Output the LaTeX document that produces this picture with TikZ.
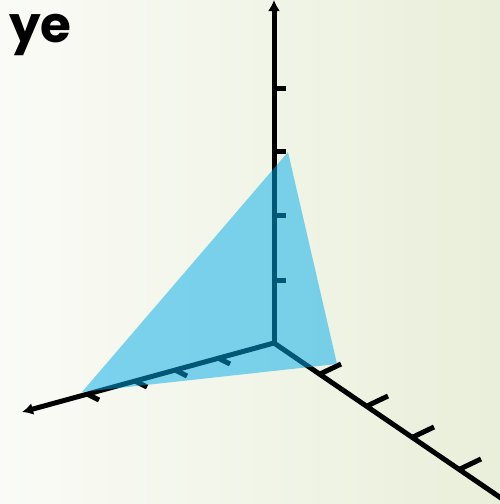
\documentclass[tikz,border=0pt]{standalone}
\usepackage{fontspec}
\usepackage{xcolor}
\usepackage{tikz}
\usetikzlibrary{arrows.meta}
\newfontfamily\labelfont{Poppins}
\definecolor{bgleft}{RGB}{250,251,246}
\definecolor{bgright}{RGB}{233,239,218}
\definecolor{planeblue}{RGB}{0,172,235}

\begin{document}
\begin{tikzpicture}[x=1pt, y=-1pt,
    axis/.style={line width=5pt, black},
    axisarr/.style={axis, -{Latex[length=11pt, width=12pt]}},
    axtick/.style={line width=5pt, black},
    plane/.style={fill=planeblue, fill opacity=0.5},
    lbl/.style={font=\labelfont\bfseries\fontsize{50}{50}\selectfont,
                inner sep=0pt, anchor=base west}
  ]
  % Background
  \shade[left color=bgleft, right color=bgright] (0,0) rectangle (500,504);
  \clip (0,0) rectangle (500,504);

  % Label
  \node[lbl] (ylabel) at (9,42) {ye};

  % Axes
  \coordinate (O) at (274,343);
  \coordinate (ztop) at (274,0);
  \coordinate (xleft) at (22,412);
  \coordinate (yright) at (520,511);
  \draw[axisarr] (O) -- (ztop);
  \draw[axisarr] (O) -- (xleft);
  \draw[axis] (O) -- (yright);

  % Ticks: vertical axis
  \draw[axtick] (274,88) -- ++(12,0);
  \draw[axtick] (274,151) -- ++(12,0);
  \draw[axtick] (274,215) -- ++(12,0);
  \draw[axtick] (274,280) -- ++(12,0);

  % Ticks: left axis
  \draw[axtick] (218,358) -- ++(12,6);
  \draw[axtick] (175,370) -- ++(12,6);
  \draw[axtick] (135,381) -- ++(12,6);
  \draw[axtick] (87,394) -- ++(12,6);

  % Ticks: right axis
  \draw[axtick] (320,374) -- ++(21,-10);
  \draw[axtick] (367,406) -- ++(21,-10);
  \draw[axtick] (413,437) -- ++(21,-10);
  \draw[axtick] (460,469) -- ++(21,-10);

  % Plane
  \coordinate (apex) at (288,152);
  \coordinate (pleft) at (82,392);
  \coordinate (pright) at (337,364);
  \fill[plane] (apex) -- (pleft) -- (pright) -- cycle;
\end{tikzpicture}
\end{document}
